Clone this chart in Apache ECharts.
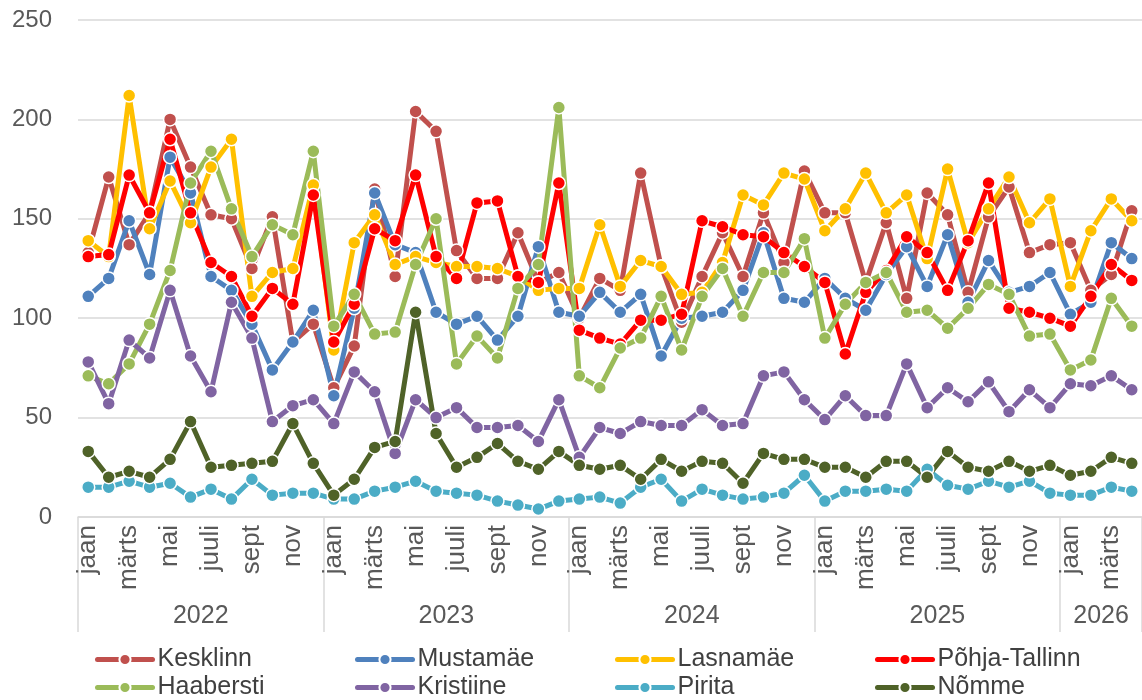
<!DOCTYPE html>
<html>
<head>
<meta charset="utf-8">
<script src="https://cdn.jsdelivr.net/npm/echarts@6/dist/echarts.min.js"></script>
<style>
html,body{margin:0;padding:0;background:#fff;}
#chart{width:1142px;height:700px;}
</style>
</head>
<body>
<div id="chart"></div>
<script>
const monthNames = ['jaan','veebr','märts','apr','mai','juuni','juuli','aug','sept','okt','nov','dets'];
const years = ['2022','2023','2024','2025','2026'];
const monthsPerYear = [12,12,12,12,4];

const kesklinn = [133,171,137,153,200,176,152,150,125,151,88,97,
  65,86,165,121,204,194,134,120,120,143,118,123,
  100,120,114,173,126,98,121,143,121,153,128,174,
  153,153,118,148,110,163,152,113,151,166,133,137,
  138,114,122,154];
const mustamae = [111,120,149,122,181,163,121,114,97,74,88,104,
  61,105,163,137,133,103,97,101,89,101,136,103,
  101,113,103,112,81,100,101,103,114,143,110,108,
  120,110,104,122,136,116,142,108,129,113,116,123,
  102,108,138,130];
const lasnamae = [139,131,212,145,169,148,176,190,111,123,125,167,
  84,138,152,127,131,128,126,126,125,121,114,115,
  115,147,116,129,126,112,113,128,162,157,173,170,
  144,155,173,153,162,130,175,138,155,171,148,160,
  116,144,160,149];
const pohjaTallinn = [131,132,172,153,190,153,128,121,101,115,107,162,
  88,107,145,139,172,131,120,158,159,121,118,168,
  94,90,87,99,99,102,149,146,142,141,133,126,
  118,82,113,124,141,133,114,139,168,105,103,100,
  96,111,127,119];
const haabersti = [71,67,77,97,124,168,184,155,131,147,142,184,
  96,112,92,93,127,150,77,91,80,115,127,206,
  71,65,85,90,111,84,111,125,101,123,123,140,
  90,107,118,123,103,104,95,105,117,112,91,92,
  74,79,110,96];
const kristiine = [78,57,89,80,114,81,63,108,90,48,56,59,
  47,73,63,32,59,50,55,45,45,46,38,59,
  30,45,42,48,46,46,54,46,47,71,73,59,
  49,61,51,51,77,55,65,58,68,53,64,55,
  67,66,71,64];
const pirita = [15,15,18,15,17,10,14,9,19,11,12,12,
  9,9,13,15,18,13,12,11,8,6,4,8,
  9,10,7,15,19,8,14,11,9,10,12,21,
  8,13,13,14,13,24,16,14,18,15,18,12,
  11,11,15,13];
const nomme = [33,20,23,20,29,48,25,26,27,28,47,27,
  11,19,35,38,103,42,25,30,37,28,24,33,
  26,24,26,19,29,23,28,27,17,32,29,29,
  25,25,20,28,28,20,33,25,23,28,23,26,
  21,23,30,27];

const yTicks = {min:0, max:250, interval:50};

const categories = [];
years.forEach((y, yi) => {
  for (let m = 0; m < monthsPerYear[yi]; m++) categories.push(y + '|' + monthNames[m]);
});
const N = categories.length;
const yearAxisData = new Array(N + 1).fill('');
const yearCenters = {}, yearBounds = {0:true};
let acc = 0;
years.forEach((y, yi) => {
  const c = acc + monthsPerYear[yi] / 2;
  yearAxisData[Math.round(c)] = y;
  yearCenters[Math.round(c)] = true;
  acc += monthsPerYear[yi];
  yearBounds[acc] = true;
});

const seriesDefs = [
  ['Kesklinn', kesklinn, '#C0504D'],
  ['Mustamäe', mustamae, '#4F81BD'],
  ['Lasnamäe', lasnamae, '#FFC000'],
  ['Põhja-Tallinn', pohjaTallinn, '#FF0000'],
  ['Haabersti', haabersti, '#9BBB59'],
  ['Kristiine', kristiine, '#8064A2'],
  ['Pirita', pirita, '#4BACC6'],
  ['Nõmme', nomme, '#4F6228']
];
const legendLayout = [
  ['Kesklinn',0,0],['Mustamäe',1,0],['Lasnamäe',2,0],['Põhja-Tallinn',3,0],
  ['Haabersti',0,1],['Kristiine',1,1],['Pirita',2,1],['Nõmme',3,1]
];

const font = 'Liberation Sans, Arial, sans-serif';
const chart = echarts.init(document.getElementById('chart'));
chart.setOption({
  animation: false,
  backgroundColor: '#ffffff',
  grid: {left: 78, top: 20, width: 1064, height: 497, containLabel: false},
  legend: legendLayout.map(([name, col, row]) => ({
    data: [name],
    left: 95 + col * 260,
    top: 647 + row * 28,
    itemWidth: 55,
    itemHeight: 14,
    itemGap: 0,
    lineStyle: {width: 5},
    textStyle: {fontSize: 25, color: '#404040', fontFamily: font},
    padding: 0
  })),
  xAxis: [{
    type: 'category',
    data: categories,
    boundaryGap: true,
    axisLine: {show: true, lineStyle: {color: '#D9D9D9', width: 1.5}},
    axisTick: {show: false},
    axisLabel: {
      interval: 1,
      rotate: 90,
      fontSize: 26,
      color: '#595959',
      fontFamily: font,
      margin: 8,
      formatter: v => v.split('|')[1]
    }
  }, {
    type: 'category',
    data: yearAxisData,
    boundaryGap: false,
    position: 'bottom',
    offset: 115,
    axisLine: {show: false},
    axisTick: {
      show: true, inside: true, length: 115,
      interval: (i) => !!yearBounds[i],
      lineStyle: {color: '#D9D9D9', width: 1.5}
    },
    axisLabel: {
      show: true, inside: true, margin: 3,
      interval: (i) => !!yearCenters[i],
      fontSize: 25, color: '#595959', fontFamily: font
    }
  }],
  yAxis: {
    type: 'value',
    min: yTicks.min, max: yTicks.max, interval: yTicks.interval,
    axisLine: {show: false},
    axisTick: {show: false},
    splitLine: {lineStyle: {color: '#D9D9D9', width: 1.5}},
    axisLabel: {fontSize: 24, color: '#595959', fontFamily: font, margin: 26}
  },
  series: seriesDefs.map(([name, data, color]) => ({
    name,
    type: 'line',
    data,
    xAxisIndex: 0,
    symbol: 'circle',
    symbolSize: 13,
    itemStyle: {color, borderColor: '#ffffff', borderWidth: 1.5},
    lineStyle: {color, width: 5, join: 'round', cap: 'round'},
    emphasis: {disabled: true}
  }))
});
</script>
</body>
</html>
